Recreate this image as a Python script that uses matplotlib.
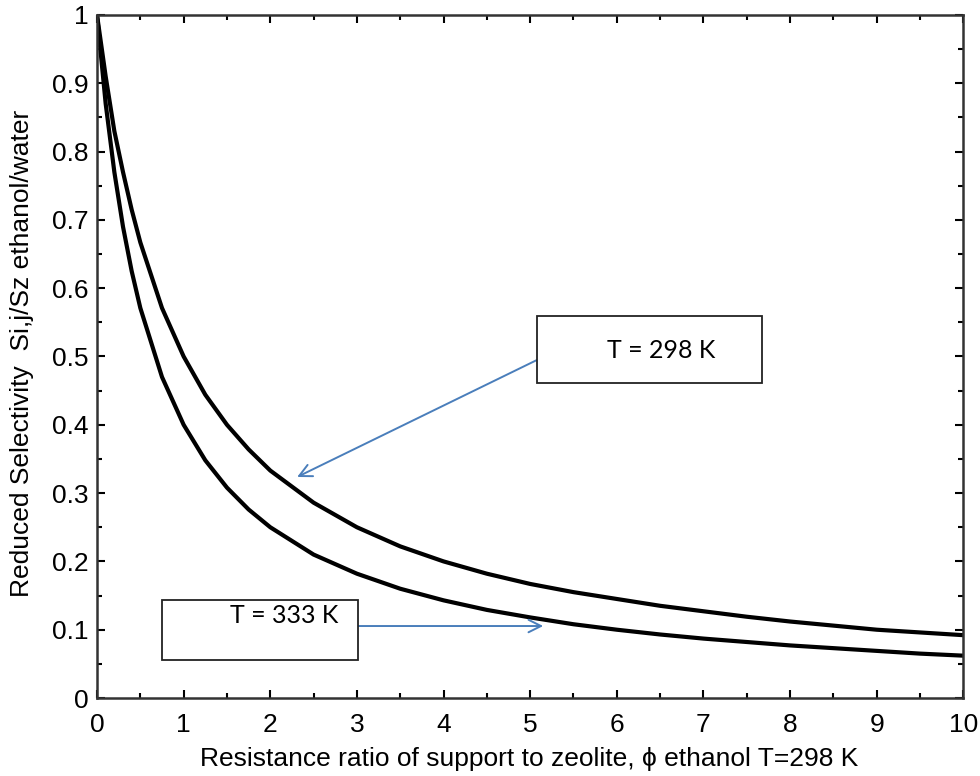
import numpy as np
import matplotlib
matplotlib.use("Agg")
import matplotlib.pyplot as plt
from matplotlib.patches import Rectangle
from matplotlib.ticker import MultipleLocator, FormatStrFormatter

# resistance ratio (x) and reduced selectivity
phi = [0, 0.1, 0.2, 0.3, 0.4, 0.5, 0.75, 1, 1.25, 1.5, 1.75, 2, 2.5, 3, 3.5,
       4, 4.5, 5, 5.5, 6, 6.5, 7, 7.5, 8, 8.5, 9, 9.5, 10]
sel_298 = [1.0, 0.91, 0.83, 0.77, 0.715, 0.667, 0.571, 0.50, 0.444, 0.40,
           0.364, 0.333, 0.286, 0.25, 0.222, 0.20, 0.182, 0.167, 0.155, 0.145,
           0.135, 0.127, 0.119, 0.112, 0.106, 0.10, 0.096, 0.092]
sel_333 = [1.0, 0.87, 0.77, 0.69, 0.625, 0.571, 0.47, 0.40, 0.348, 0.308,
           0.276, 0.25, 0.21, 0.182, 0.16, 0.143, 0.129, 0.118, 0.108, 0.10,
           0.093, 0.087, 0.082, 0.077, 0.073, 0.069, 0.065, 0.062]

fam = ["Liberation Sans", "DejaVu Sans"]

fig = plt.figure(figsize=(9.8, 7.76), dpi=100)
ax = fig.add_axes([0.099, 0.1005, 0.884, 0.8802])

ax.plot(phi, sel_298, color="black", lw=3)
ax.plot(phi, sel_333, color="black", lw=3)

ax.set_xlim(0, 10)
ax.set_ylim(0, 1)
ax.xaxis.set_major_locator(MultipleLocator(1))
ax.xaxis.set_minor_locator(MultipleLocator(0.5))
ax.yaxis.set_major_locator(MultipleLocator(0.1))
ax.yaxis.set_minor_locator(MultipleLocator(0.05))
ax.yaxis.set_major_formatter(FormatStrFormatter("%g"))
ax.tick_params(which="both", direction="in", top=True, right=True,
               labelsize=19, width=1.5)
ax.tick_params(axis="x", pad=11)
ax.tick_params(axis="y", pad=6)
ax.tick_params(which="major", length=6)
ax.tick_params(which="minor", length=3.5)
for s in ax.spines.values():
    s.set_color("#333333")
    s.set_linewidth(1.8)

ax.set_xlabel("Resistance ratio of support to zeolite, \u03d5 ethanol T=298 K",
              fontsize=19, fontfamily=fam)
ax.set_ylabel("Reduced Selectivity  Si,j/Sz ethanol/water",
              fontsize=19, fontfamily=fam)
ax.xaxis.set_label_coords(0.499, -0.072)
ax.yaxis.set_label_coords(-0.073, 0.505)
for lab in ax.get_xticklabels() + ax.get_yticklabels():
    lab.set_fontfamily(fam)

blue = "#4a7ebb"
# annotation boxes
ax.add_patch(Rectangle((0.508, 0.461), 0.26, 0.098, transform=ax.transAxes,
                       fill=True, facecolor="white", edgecolor="#222222", lw=1.3, zorder=5))
ax.text(0.589, 0.5095, "T = 298 K", transform=ax.transAxes, fontsize=18,
        fontfamily="Lato", va="center", ha="left", zorder=6)
ax.add_patch(Rectangle((0.075, 0.0556), 0.226, 0.088, transform=ax.transAxes,
                       fill=True, facecolor="white", edgecolor="#222222", lw=1.3, zorder=5))
ax.text(0.1536, 0.1215, "T = 333 K", transform=ax.transAxes, fontsize=18,
        fontfamily="Lato", va="center", ha="left", zorder=6)

ax.annotate("", xy=(0.231, 0.3236), xytext=(0.508, 0.495),
            xycoords="axes fraction", textcoords="axes fraction",
            arrowprops=dict(arrowstyle="->,head_length=0.9,head_width=0.45",
                            color=blue, lw=1.4, shrinkA=0, shrinkB=0))
ax.annotate("", xy=(0.515, 0.1054), xytext=(0.301, 0.1054),
            xycoords="axes fraction", textcoords="axes fraction",
            arrowprops=dict(arrowstyle="->,head_length=0.9,head_width=0.45",
                            color=blue, lw=1.4, shrinkA=0, shrinkB=0))

fig.savefig("out.png", dpi=100)
